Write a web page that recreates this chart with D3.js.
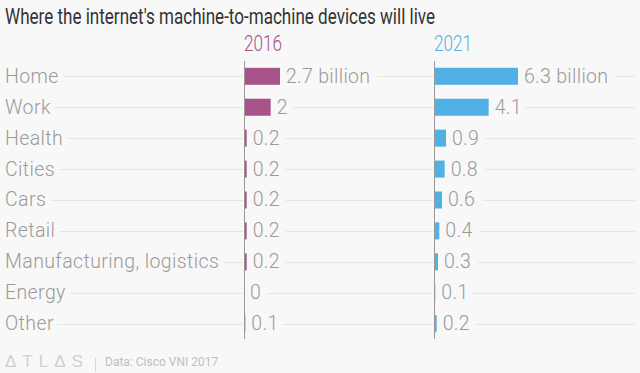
<!DOCTYPE html>
<html><head><meta charset="utf-8">
<script src="https://cdn.jsdelivr.net/npm/d3@7"></script>
<style>
html,body{margin:0;padding:0;background:#f8f8f8;}
svg{display:block;}
</style></head>
<body>
<svg id="chart" width="640" height="373"></svg>
<script>
const title = "Where the internet's machine-to-machine devices will live";
const categories = ["Home","Work","Health","Cities","Cars","Retail","Manufacturing, logistics","Energy","Other"];
const series = ["2016","2021"];
const values2016 = [2.7,2,0.2,0.2,0.2,0.2,0.2,0,0.1];
const values2021 = [6.3,4.1,0.9,0.8,0.6,0.4,0.3,0.1,0.2];
const colors = ["#a8538a","#51b1e6"];
const source = "Data: Cisco VNI 2017";

const svg = d3.select("#chart");
const W = 640, H = 373;
const bg = "#f8f8f8";
const labelFont = "Roboto, 'Noto Sans', sans-serif";

svg.append("rect").attr("width",W).attr("height",H).attr("fill",bg);

svg.append("text").attr("x",5).attr("y",23.5)
  .attr("font-family",labelFont).attr("font-weight",400)
  .attr("font-size",22).attr("fill","#333")
  .attr("textLength",430).attr("lengthAdjust","spacingAndGlyphs")
  .text(title);

const y = d3.scaleBand().domain(categories).range([61,339]).paddingInner(0.45).paddingOuter(0.22);
const x = d3.scaleLinear().domain([0,6.3]).range([0,84]);
const panelX = [244,434];
const data = [values2016, values2021];

// gridlines
svg.append("g").selectAll("line").data(categories).join("line")
  .attr("x1",5).attr("x2",635)
  .attr("y1",d=>Math.round(y(d)+y.bandwidth()/2)+0.5)
  .attr("y2",d=>Math.round(y(d)+y.bandwidth()/2)+0.5)
  .attr("stroke","#e6e6e6").attr("stroke-width",1);

// category labels
svg.append("g").selectAll("text").data(categories).join("text")
  .attr("x",5).attr("y",d=>y(d)+y.bandwidth()/2)
  .attr("dy","0.33em")
  .attr("font-family",labelFont).attr("font-weight",300)
  .attr("font-size",19.5).attr("letter-spacing",0.4).attr("fill","#9a9a9a")
  .attr("stroke",bg).attr("stroke-width",12).attr("paint-order","stroke")
  .attr("stroke-linejoin","round")
  .text(d=>d);

series.forEach((s,i)=>{
  const g = svg.append("g").attr("transform",`translate(${panelX[i]},0)`);
  g.append("text").attr("x",0).attr("y",51)
    .attr("font-family",labelFont).attr("font-weight",300)
    .attr("font-size",22).attr("fill",colors[i])
    .attr("textLength",38).attr("lengthAdjust","spacingAndGlyphs")
    .text(s);
  const vals = data[i];
  g.selectAll("text.v").data(categories).join("text").attr("class","v")
    .attr("x",(d,j)=>x(vals[j])+6)
    .attr("y",d=>y(d)+y.bandwidth()/2).attr("dy","0.33em")
    .attr("font-family",labelFont).attr("font-weight",300)
    .attr("font-size",19.5).attr("letter-spacing",0.3).attr("fill","#9a9a9a")
    .attr("stroke",bg).attr("stroke-width",16).attr("paint-order","stroke")
    .attr("stroke-linejoin","round")
    .text((d,j)=> j===0 ? vals[j]+" billion" : vals[j]);
  g.selectAll("rect").data(categories).join("rect")
    .attr("x",0).attr("y",d=>y(d))
    .attr("width",(d,j)=>x(vals[j])).attr("height",y.bandwidth())
    .attr("fill",colors[i]);
  g.append("line").attr("x1",0.5).attr("x2",0.5).attr("y1",61).attr("y2",339)
    .attr("stroke","#999").attr("stroke-width",1);
});

// footer
const f = svg.append("g").attr("transform","translate(5,367)");
f.append("text").attr("x",0).attr("y",0)
  .attr("font-family","'Liberation Sans',sans-serif").attr("font-size",17)
  .attr("letter-spacing",6).attr("fill","#d0d0d0").attr("font-weight",300).text("ΔTLΔS");
f.append("line").attr("x1",90.5).attr("x2",90.5).attr("y1",-9).attr("y2",5)
  .attr("stroke","#d8d8d8");
f.append("text").attr("x",100).attr("y",-1)
  .attr("font-family","Roboto,sans-serif").attr("font-size",12)
  .attr("fill","#c0c0c0").text(source);
</script>
</body></html>
